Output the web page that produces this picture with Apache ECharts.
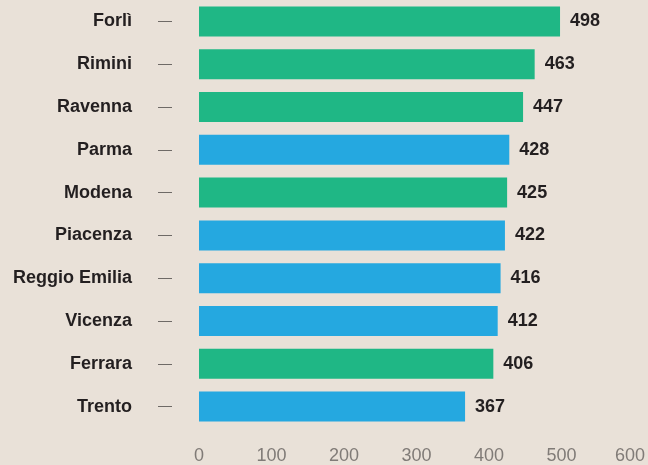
<!DOCTYPE html>
<html>
<head>
<meta charset="utf-8">
<script src="https://cdn.jsdelivr.net/npm/echarts@6/dist/echarts.min.js"></script>
<style>
  html, body { margin: 0; padding: 0; background: #e9e1d8; }
  #chart { width: 648px; height: 465px; }
</style>
</head>
<body>
<div id="chart"></div>
<script>
// città e valori, dall'alto in basso
var cities = ['Forlì', 'Rimini', 'Ravenna', 'Parma', 'Modena', 'Piacenza', 'Reggio Emilia', 'Vicenza', 'Ferrara', 'Trento'];
var values = [498, 463, 447, 428, 425, 422, 416, 412, 406, 367];
var groups = ['g', 'g', 'g', 'b', 'g', 'b', 'b', 'b', 'g', 'b'];
var xTicks = [0, 100, 200, 300, 400, 500, 600];

var groupColor = { g: '#1fb785', b: '#25a8e0' };

var chart = echarts.init(document.getElementById('chart'));

var barData = values.map(function (v, i) {
  return { value: v, itemStyle: { color: groupColor[groups[i]] } };
});

chart.setOption({
  backgroundColor: '#e9e1d8',
  animation: false,
  grid: { left: 199, right: 13, top: -2.5, height: 431, containLabel: false },
  xAxis: {
    type: 'value',
    min: xTicks[0],
    max: xTicks[xTicks.length - 1],
    interval: 100,
    axisLine: { show: false },
    axisTick: { show: false },
    splitLine: { show: false },
    axisLabel: {
      margin: 19,
      color: '#807b77',
      fontSize: 18,
      fontFamily: 'Liberation Sans',
      formatter: function (v) {
        return v === 600 ? '{m|' + v + '}' : String(v);
      },
      rich: { m: { fontSize: 18, color: '#807b77', fontFamily: 'Liberation Sans', padding: [0, 8, 0, 0] } }
    }
  },
  yAxis: {
    type: 'category',
    data: cities,
    inverse: true,
    axisLine: { show: false },
    // trattino staccato dall'asse: tratto visibile solo tra 27 e 41 px
    axisTick: {
      show: true, alignWithLabel: true, length: 41,
      lineStyle: { color: '#6e6a66', width: 1, type: [0, 27, 14, 0] }
    },
    axisLabel: {
      margin: 67,
      color: '#231f20',
      fontSize: 18,
      fontWeight: 'bold',
      fontFamily: 'Liberation Sans'
    }
  },
  series: [{
    type: 'bar',
    data: barData,
    barWidth: 30,
    label: {
      show: true,
      position: 'right',
      distance: 10,
      color: '#231f20',
      fontSize: 18,
      fontWeight: 'bold',
      fontFamily: 'Liberation Sans'
    }
  }]
});
</script>
</body>
</html>
